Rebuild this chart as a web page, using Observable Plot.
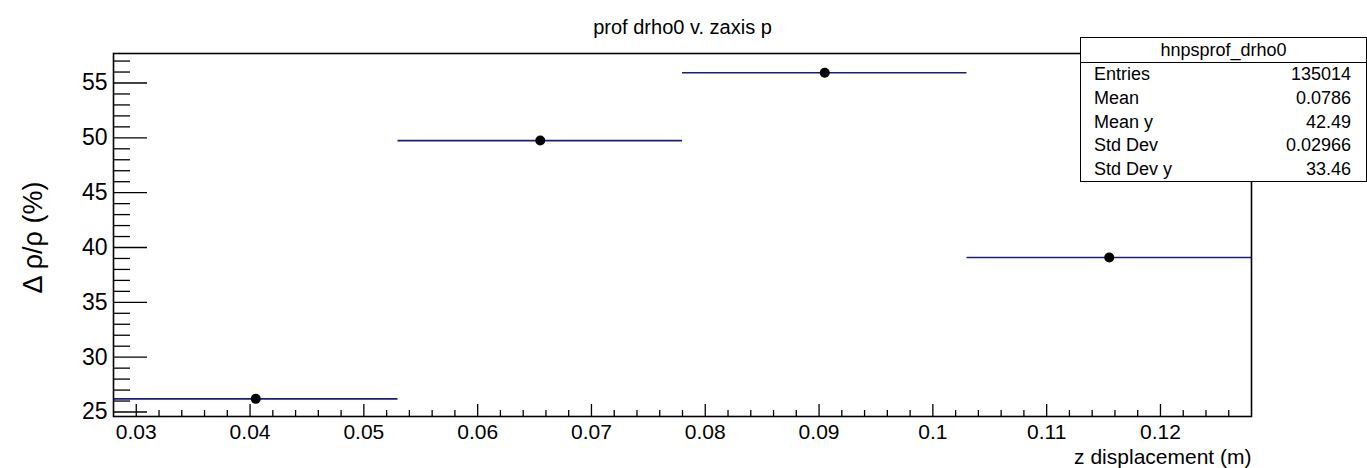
<!DOCTYPE html>
<html>
<head>
<meta charset="utf-8">
<script src="https://cdn.jsdelivr.net/npm/d3@7"></script>
<script src="https://cdn.jsdelivr.net/npm/@observablehq/plot@0.6"></script>
<style>
  html, body { margin: 0; padding: 0; background: #fff; overflow: hidden; }
  #wrap { position: relative; width: 1367px; height: 468px; overflow: hidden; font-family: "Liberation Sans", Arial, Helvetica, sans-serif; }
  #stats { position: absolute; left: 1080px; top: 37px; width: 287px; height: 145px; box-sizing: border-box;
           border: 1.6px solid #000; background: #fff; font-size: 18px; color: #000; }
  #stats .hdr { height: 24px; line-height: 24px; text-align: center; border-bottom: 1.6px solid #000; }
  #stats .row { height: 23.8px; line-height: 23.8px; display: flex; justify-content: space-between; padding: 0 15px 0 13px; }
</style>
</head>
<body>
<div id="wrap"></div>
<script>
// ---- data ----
const binLow    = [0.028, 0.053, 0.078, 0.103];
const binHigh   = [0.053, 0.078, 0.103, 0.128];
const binCenter = [0.0405, 0.0655, 0.0905, 0.1155];
const meanValue = [26.2, 49.75, 55.93, 39.09];

const xMajorTicks = [0.03, 0.04, 0.05, 0.06, 0.07, 0.08, 0.09, 0.10, 0.11, 0.12];
const xTickLabels = ["0.03", "0.04", "0.05", "0.06", "0.07", "0.08", "0.09", "0.1", "0.11", "0.12"];
const yMajorTicks = [25, 30, 35, 40, 45, 50, 55];
const yTickLabels = ["25", "30", "35", "40", "45", "50", "55"];

const titleText = "prof drho0 v. zaxis p";
const xTitle = "z displacement (m)";
const yTitle = "\u0394 \u03c1/\u03c1 (%)";

const statsName = "hnpsprof_drho0";
const statsLabels = ["Entries", "Mean", "Mean y", "Std Dev", "Std Dev y"];
const statsValues = ["135014", "0.0786", "42.49", "0.02966", "33.46"];

// ---- derived ----
const bins = binLow.map((lo, i) => ({lo, hi: binHigh[i], x: binCenter[i], y: meanValue[i]}));
const xDomain = [0.028, 0.128];
const yDomain = [24.59, 57.69];
const xMinorTicks = d3.range(0, 51).map(i => +(0.028 + i * 0.002).toFixed(4))
  .filter(v => v > xDomain[0] && v < xDomain[1] && !xMajorTicks.some(m => Math.abs(m - v) < 1e-6));
const yMinorTicks = d3.range(25, 58).filter(v => !yMajorTicks.includes(v));

const W = 1367, H = 468;
const mL = 113, mR = 116, mT = 53, mB = 52;
const frameW = W - mL - mR, frameH = H - mT - mB;

const chart = Plot.plot({
  width: W, height: H,
  marginLeft: mL, marginRight: mR, marginTop: mT, marginBottom: mB,
  style: {fontFamily: "'Liberation Sans', Arial, Helvetica, sans-serif", color: "#000", background: "#fff", overflow: "visible"},
  x: {domain: xDomain},
  y: {domain: yDomain},
  marks: [
    Plot.axisX({ticks: xMajorTicks, tickSize: 0, tickPadding: 8, fontSize: 21,
                tickFormat: (d) => xTickLabels[xMajorTicks.indexOf(d)], label: null}),
    Plot.axisY({ticks: yMajorTicks, tickSize: 0, tickPadding: 6, fontSize: 23,
                tickFormat: (d) => yTickLabels[yMajorTicks.indexOf(d)], label: null}),
    // inward ticks (ROOT style)
    Plot.tickY(yMajorTicks, {y: d => d, insetRight: frameW - 34, stroke: "#000", strokeWidth: 1.3}),
    Plot.tickY(yMinorTicks, {y: d => d, insetRight: frameW - 17, stroke: "#000", strokeWidth: 1.3}),
    Plot.tickX(xMajorTicks, {x: d => d, insetTop: frameH - 12, stroke: "#000", strokeWidth: 1.3}),
    Plot.tickX(xMinorTicks, {x: d => d, insetTop: frameH - 6, stroke: "#000", strokeWidth: 1.3}),
    // horizontal bin-width bars
    Plot.ruleY(bins, {x1: "lo", x2: "hi", y: "y", stroke: "#1c1c7c", strokeWidth: 1.6}),
    Plot.dot(bins, {x: "x", y: "y", r: 5, fill: "#000", stroke: "none"}),
    Plot.frame({stroke: "#000", strokeWidth: 1.6}),
    // titles
    Plot.text([titleText], {text: d => d, frameAnchor: "top", dy: -20, lineAnchor: "bottom", fontSize: 20, fill: "#000"}),
    Plot.text([xTitle], {text: d => d, frameAnchor: "bottom-right", dy: 47, lineAnchor: "bottom", textAnchor: "end", fontSize: 21, fill: "#000"}),
    Plot.text([yTitle], {text: d => d, frameAnchor: "left", dx: -72, dy: 2.5, rotate: -90, lineAnchor: "bottom", textAnchor: "middle", fontSize: 27, fill: "#000"})
  ]
});

const wrap = document.getElementById("wrap");
wrap.appendChild(chart);

// stats box
const box = document.createElement("div");
box.id = "stats";
const hdr = document.createElement("div");
hdr.className = "hdr";
hdr.textContent = statsName;
box.appendChild(hdr);
statsLabels.forEach((lab, i) => {
  const row = document.createElement("div");
  row.className = "row";
  const a = document.createElement("span"); a.textContent = lab;
  const b = document.createElement("span"); b.textContent = statsValues[i];
  row.appendChild(a); row.appendChild(b);
  box.appendChild(row);
});
wrap.appendChild(box);
</script>
</body>
</html>
